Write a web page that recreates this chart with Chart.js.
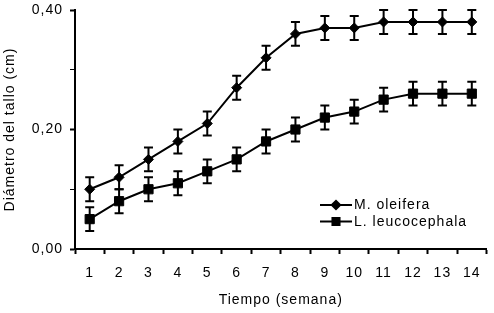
<!DOCTYPE html>
<html>
<head>
<meta charset="utf-8">
<script src="https://cdn.jsdelivr.net/npm/chart.js@4/dist/chart.umd.min.js"></script>
<style>
    body { margin: 0; background: #fff; }
    #wrap { width: 494px; height: 313px; position: relative; }
</style>
</head>
<body>
<div id="wrap"><canvas id="chart"></canvas></div>
<script>
'use strict';

const weeks = ['1', '2', '3', '4', '5', '6', '7', '8', '9', '10', '11', '12', '13', '14'];

const oleifera = [0.10, 0.12, 0.15, 0.18, 0.21, 0.27, 0.32, 0.36, 0.37, 0.37, 0.38, 0.38, 0.38, 0.38];
const oleiferaErr = [0.02, 0.02, 0.02, 0.02, 0.02, 0.02, 0.02, 0.02, 0.02, 0.02, 0.02, 0.02, 0.02, 0.02];

const leucocephala = [0.05, 0.08, 0.10, 0.11, 0.13, 0.15, 0.18, 0.20, 0.22, 0.23, 0.25, 0.26, 0.26, 0.26];
const leucocephalaErr = [0.02, 0.02, 0.02, 0.02, 0.02, 0.02, 0.02, 0.02, 0.02, 0.02, 0.02, 0.02, 0.02, 0.02];

const seriesNames = ['M. oleifera', 'L. leucocephala'];
const yLabelTicks = [0, 0.2, 0.4];

const FONT = { family: '"Liberation Sans", Arial, sans-serif', size: 14 };

// letter spacing like the old windows rendering
const spacingPlugin = {
    id: 'spacing',
    beforeDraw(chart) {
        chart.ctx.letterSpacing = '1px';
    }
};

// vertical error bars with caps, drawn under the markers
const errorBarPlugin = {
    id: 'errorBars',
    beforeDatasetsDraw(chart) {
        const ctx = chart.ctx;
        const yScale = chart.scales.y;
        ctx.save();
        ctx.strokeStyle = '#000';
        ctx.lineWidth = 2;
        chart.data.datasets.forEach((ds, i) => {
            const meta = chart.getDatasetMeta(i);
            meta.data.forEach((pt, j) => {
                const v = ds.data[j];
                const e = ds.errors[j];
                const top = yScale.getPixelForValue(v + e);
                const bottom = yScale.getPixelForValue(v - e);
                const cap = 4.5;
                ctx.beginPath();
                ctx.moveTo(pt.x, top);
                ctx.lineTo(pt.x, bottom);
                ctx.moveTo(pt.x - cap, top);
                ctx.lineTo(pt.x + cap, top);
                ctx.moveTo(pt.x - cap, bottom);
                ctx.lineTo(pt.x + cap, bottom);
                ctx.stroke();
            });
        });
        ctx.restore();
    }
};

// legend sitting inside the plot, lower right
const insideLegendPlugin = {
    id: 'insideLegend',
    afterDraw(chart) {
        const ctx = chart.ctx;
        const x0 = 320, y0 = 205, row = 16.5;
        ctx.save();
        ctx.font = FONT.size + 'px ' + FONT.family;
        ctx.fillStyle = '#000';
        ctx.strokeStyle = '#000';
        ctx.textBaseline = 'middle';
        ctx.textAlign = 'left';
        chart.data.datasets.forEach((ds, i) => {
            const y = y0 + i * row;
            ctx.lineWidth = 2;
            ctx.beginPath();
            ctx.moveTo(x0, y);
            ctx.lineTo(x0 + 32, y);
            ctx.stroke();
            Chart.helpers.drawPoint(ctx, {
                pointStyle: ds.pointStyle,
                radius: ds.pointStyle === 'rect' ? 5 : 4.2,
                borderWidth: 1,
                rotation: 0
            }, x0 + 16, y);
            ctx.fillText(ds.label, x0 + 34, y + 0.5);
        });
        ctx.restore();
    }
};

function makeSeries(label, data, errors, style, radius) {
    return {
        label: label,
        data: data,
        errors: errors,
        borderColor: '#000',
        backgroundColor: '#000',
        borderWidth: 2,
        pointStyle: style,
        pointRadius: radius,
        pointBackgroundColor: '#000',
        pointBorderColor: '#000',
        pointBorderWidth: 1,
        tension: 0,
        fill: false
    };
}

const config = {
    type: 'line',
    data: {
        labels: weeks,
        datasets: [
            makeSeries(seriesNames[0], oleifera, oleiferaErr, 'rectRot', 5),
            makeSeries(seriesNames[1], leucocephala, leucocephalaErr, 'rect', 6.5)
        ]
    },
    options: {
        responsive: true,
        maintainAspectRatio: false,
        animation: false,
        events: [],
        layout: { padding: { top: 10, right: 6, bottom: 0, left: 0 } },
        plugins: {
            legend: { display: false },
            tooltip: { enabled: false }
        },
        scales: {
            x: {
                type: 'category',
                offset: true,
                afterFit(scale) {
                    scale.height = 64;
                    scale.paddingLeft = 0;
                    scale.paddingRight = 0;
                },
                border: { display: true, color: '#000', width: 2 },
                grid: {
                    display: true,
                    offset: true,
                    drawOnChartArea: false,
                    drawTicks: true,
                    tickLength: 5,
                    tickColor: '#000',
                    tickWidth: 2
                },
                ticks: {
                    color: '#000',
                    font: FONT,
                    padding: 11,
                    maxRotation: 0,
                    autoSkip: false
                },
                title: {
                    display: true,
                    text: 'Tiempo (semana)',
                    color: '#000',
                    font: FONT,
                    padding: { top: 0, bottom: 4 }
                }
            },
            y: {
                min: 0,
                max: 0.4,
                afterFit(scale) {
                    scale.width = 75;
                    scale.paddingTop = 0;
                    scale.paddingBottom = 0;
                },
                border: { display: true, color: '#000', width: 2 },
                grid: {
                    display: true,
                    drawOnChartArea: false,
                    drawTicks: true,
                    tickLength: 5,
                    tickColor: '#000',
                    tickWidth: ctx => (Math.round(ctx.tick.value * 10) % 2 === 0 ? 2 : 1)
                },
                ticks: {
                    stepSize: 0.1,
                    color: '#000',
                    font: FONT,
                    padding: 7,
                    callback: value => {
                        const v = Math.round(value * 10) / 10;
                        return yLabelTicks.includes(v) ? v.toFixed(2).replace('.', ',') : '';
                    }
                },
                title: {
                    display: true,
                    text: 'Diámetro del tallo (cm)',
                    color: '#000',
                    font: FONT,
                    padding: { top: 2, bottom: 0 }
                }
            }
        }
    },
    plugins: [spacingPlugin, errorBarPlugin, insideLegendPlugin]
};

new Chart(document.getElementById('chart'), config);
</script>
</body>
</html>
